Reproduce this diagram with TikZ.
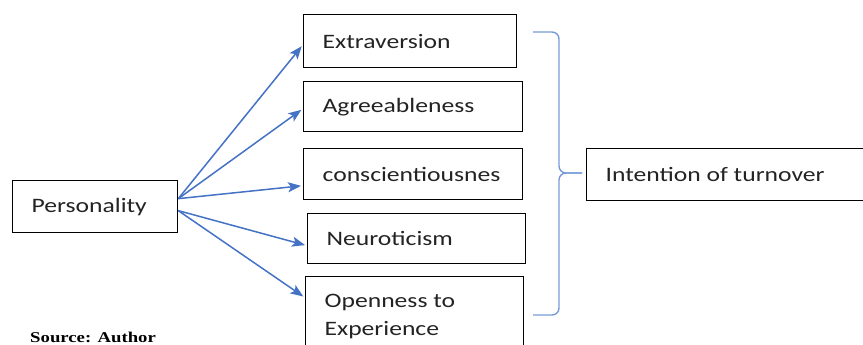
\documentclass[tikz,border=0pt]{standalone}
\usepackage{fontspec}
\setmainfont{Carlito}[FakeStretch=1.25]
\newfontfamily\sourcefont{Liberation Serif}[FakeStretch=1.25]
\usetikzlibrary{arrows.meta}

\definecolor{linkblue}{HTML}{4472C4}
\definecolor{braceblue}{RGB}{120,155,215}
\definecolor{boxtext}{RGB}{35,35,35}

\begin{document}
\begin{tikzpicture}[x=1pt, y=-1pt,
    factor/.style={draw=black, line width=1.3pt, rectangle, anchor=north west,
        inner xsep=19pt, inner ysep=2pt, align=flush left, text=boxtext,
        font=\fontsize{20.5}{28}\selectfont},
    link/.style={draw=linkblue, line width=1.5pt, shorten >=2pt,
        -{Stealth[length=13pt,width=10pt,inset=3pt]}},
    bracket/.style={draw=braceblue, line width=1.4pt, rounded corners=7pt}]

    \useasboundingbox (0,0) rectangle (863,345);
    \clip (0,0) rectangle (863,345);

    % boxes
    \node[factor, text width=127pt, minimum height=52pt] (pers) at (12,180) {Personality};

    \node[factor, text width=175pt, minimum height=53pt] (ext) at (303,14) {Extraversion};
    \node[factor, text width=181pt, minimum height=50pt] (agr) at (303,81) {Agreeableness};
    \node[factor, text width=181pt, minimum height=51pt] (con) at (303,148) {conscientiousnes};
    \node[factor, text width=180pt, minimum height=50pt] (neu) at (307,213) {Neuroticism};
    \node[factor, text width=180pt, minimum height=80pt] (ope) at (305,276) {Openness to\\Experience};

    \node[factor, text width=252pt, minimum height=52pt] (int) at (586,148) {Intention of turnover};

    % arrows out of personality
    \coordinate (fanup) at ([yshift=8pt]pers.east);
    \coordinate (fandown) at ([yshift=-4pt]pers.east);

    \draw[link] (fanup) -- ([yshift=-3.5pt]ext.west);
    \draw[link] (fanup) -- ([yshift=-2pt]agr.west);
    \draw[link] (fanup) -- ([yshift=-11.5pt]con.west);
    \draw[link] (fandown) -- ([yshift=-7pt]neu.west);
    \draw[link] (fandown) -- ([yshift=19pt]ope.west);

    % brace
    \coordinate (tip) at (582,173);
    \draw[bracket] (533,32) -| (559,173) -- (tip);
    \draw[bracket] (533,315) -| (559,173) -- (tip);

    \node[anchor=base west, inner sep=0pt, font=\sourcefont\bfseries\fontsize{15}{18}\selectfont] (src) at (30,342) {Source: Author};

\end{tikzpicture}
\end{document}
